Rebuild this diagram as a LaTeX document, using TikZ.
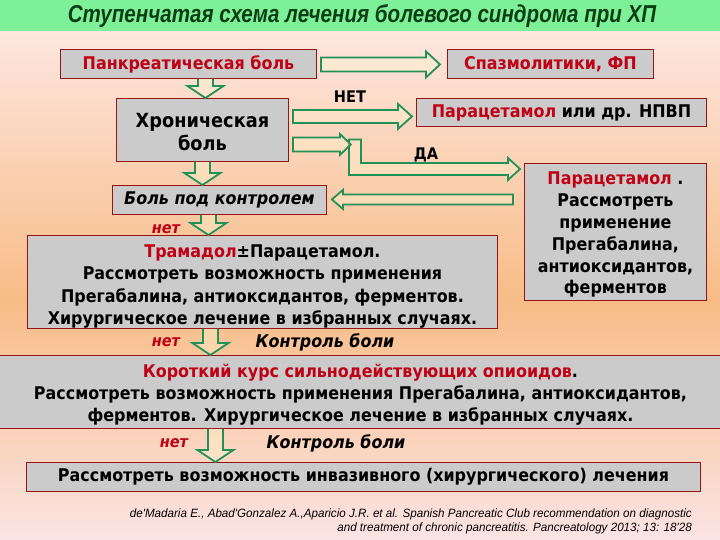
\documentclass[tikz,border=0pt]{standalone}
\usepackage{fontspec}
\setmainfont{DejaVu Sans}
\newfontfamily\boxfont[FakeStretch=0.91]{DejaVu Sans}
\newfontfamily\titlefont[FakeStretch=0.84]{Liberation Sans}
\newfontfamily\citefont[FakeStretch=0.97]{Liberation Sans}
\usetikzlibrary{calc}
\definecolor{bandgreen}{RGB}{126,240,152}
\definecolor{titlegreen}{RGB}{10,62,20}
\definecolor{bgpink}{RGB}{253,230,224}
\definecolor{bgorange}{RGB}{248,188,134}
\definecolor{bgpinkb}{RGB}{251,228,228}
\definecolor{boxgray}{RGB}{203,203,203}
\definecolor{boxred}{RGB}{150,20,20}
\definecolor{txtred}{RGB}{192,0,20}
\definecolor{arrgreen}{RGB}{34,145,88}
\definecolor{arrfill}{RGB}{255,244,205}
\newcommand\redt[1]{\textcolor{txtred}{#1}}
\newcommand\lowerby[1]{\rule{0pt}{#1}}
% right-pointing block arrow: tail, tip, shaft half, head half, head length
\newcommand\rblock[5]{\draw[blockarrow] let \p1=#1, \p2=#2 in (\x1,\y1+#3) -- (\x2-#5,\y1+#3) -- (\x2-#5,\y1+#4) -- (\x2,\y1) -- (\x2-#5,\y1-#4) -- (\x2-#5,\y1-#3) -- (\x1,\y1-#3) -- cycle;}
\newcommand\lblock[5]{\draw[blockarrow] let \p1=#1, \p2=#2 in (\x1,\y1+#3) -- (\x2+#5,\y1+#3) -- (\x2+#5,\y1+#4) -- (\x2,\y1) -- (\x2+#5,\y1-#4) -- (\x2+#5,\y1-#3) -- (\x1,\y1-#3) -- cycle;}
\newcommand\dblock[2]{\draw[blockarrow] let \p1=#1, \p2=#2 in (\x1-7.5pt,\y1) -- (\x1-7.5pt,\y2+12pt) -- (\x1-18pt,\y2+12pt) -- (\x1,\y2) -- (\x1+18pt,\y2+12pt) -- (\x1+7.5pt,\y2+12pt) -- (\x1+7.5pt,\y1);}
\tikzset{
  blockarrow/.style={draw=arrgreen, line width=1.8pt, fill=arrfill, fill opacity=0.4, line join=miter},
  box/.style={draw=boxred, line width=0.9pt, fill=boxgray, inner sep=0pt, anchor=north west, align=center, font=\boxfont\bfseries\fontsize{17.5}{21.8}\selectfont},
  lbl/.style={font=\boxfont\bfseries\fontsize{16}{18}\selectfont, inner sep=0pt},
  netlbl/.style={font=\boxfont\bfseries\itshape\fontsize{16}{18}\selectfont, text=txtred, inner sep=0pt},
  ctl/.style={font=\boxfont\bfseries\itshape\fontsize{17.5}{18}\selectfont, inner sep=0pt}
}
\begin{document}
\begin{tikzpicture}[x=1pt,y=-1pt]
\useasboundingbox (0,0) rectangle (720,540);
% background
\shade[top color=bgpink, bottom color=bgorange] (0,30) rectangle (720,301);
\shade[top color=bgorange, bottom color=bgpinkb] (0,300) rectangle (720,540);
\fill[bandgreen] (0,0) rectangle (720,31);
\node[font=\titlefont\bfseries\itshape\fontsize{24.5}{28}\selectfont, text=titlegreen, inner sep=0pt] (title) at (362,16) {Ступенчатая схема лечения болевого синдрома при ХП};
% boxes
\node[box, minimum width=256pt, minimum height=29pt] (pank) at (60,49) {\redt{Панкреатическая боль}};
\node[box, minimum width=206pt, minimum height=29pt] (spaz) at (447,49) {\redt{Спазмолитики, ФП}};
\node[box, minimum width=172pt, minimum height=63pt, font=\boxfont\bfseries\fontsize{19.5}{23.5}\selectfont] (chron) at (116,98) {\lowerby{18pt}Хроническая\\боль};
\node[box, minimum width=290pt, minimum height=28pt] (para) at (416,98) {\redt{Парацетамол} или др. НПВП};
\node[box, minimum width=182pt, minimum height=137pt] (right) at (524,163) {\lowerby{18.5pt}\redt{Парацетамол} .\\Рассмотреть\\применение\\Прегабалина,\\антиоксидантов,\\ферментов};
\node[box, minimum width=214pt, minimum height=29pt, font=\boxfont\bfseries\itshape\fontsize{17.5}{20}\selectfont] (control) at (112,185) {Боль под контролем};
\node[box, minimum width=470pt, minimum height=93pt, font=\boxfont\bfseries\fontsize{17.5}{22.3}\selectfont] (big) at (27,235) {\lowerby{22pt}\redt{Трамадол}±Парацетамол.\\Рассмотреть возможность применения\\Прегабалина, антиоксидантов, ферментов.\\Хирургическое лечение в избранных случаях.};
\node[box, minimum width=724pt, minimum height=73pt, font=\boxfont\bfseries\fontsize{17.5}{22}\selectfont] (wide) at (-2,355) {\lowerby{19.5pt}\redt{Короткий курс сильнодействующих опиоидов}.\\Рассмотреть возможность применения Прегабалина, антиоксидантов,\\ферментов. Хирургическое лечение в избранных случаях.};
\node[box, minimum width=674pt, minimum height=29pt] (last) at (26,462) {Рассмотреть возможность инвазивного (хирургического) лечения};
% labels
\node[lbl] (net1) at (350,97) {НЕТ};
\node[lbl] (da) at (426,155) {ДА};
\node[netlbl] (net2) at (166,229) {нет};
\node[netlbl] (net3) at (166,342) {нет};
\node[ctl] (ctl1) at (325,342) {Контроль боли};
\node[netlbl] (net4) at (174,443) {нет};
\node[ctl] (ctl2) at (336,443) {Контроль боли};
\node[anchor=north east, align=right, font=\citefont\itshape\fontsize{12}{14}\selectfont, inner sep=0pt] (cite) at (692,509) {de'Madaria E., Abad'Gonzalez A.,Aparicio J.R. et al. Spanish Pancreatic Club recommendation on diagnostic\\and treatment of chronic pancreatitis. Pancreatology 2013; 13: 18'28};
% connectors
\coordinate (elbow) at ($(chron.east)+(66,9.5)$);
\rblock{($(pank.east)+(4,0.5)$)}{($(spaz.west)+(-7,0)$)}{7pt}{13pt}{14pt}
\rblock{($(chron.east)+(4,-13.5)$)}{($(para.west)+(-4,4)$)}{6.5pt}{12.5pt}{14pt}
\draw[blockarrow] let \p1=(elbow), \p2=($(right.north west)+(-4,6)$) in (\x1-6pt,\y1) -- (\x1+6pt,\y1) -- (\x1+6pt,\y2+6pt) -- (\x2-12pt,\y2+6pt) -- (\x2-12pt,\y2+11pt) -- (\x2,\y2) -- (\x2-12pt,\y2-11pt) -- (\x2-12pt,\y2-6pt) -- (\x1-6pt,\y2-6pt) -- cycle;
\rblock{($(chron.east)+(4,14.5)$)}{($(elbow)+(-4,5)$)}{7pt}{10.5pt}{11pt}
\lblock{($(right.west)+(-11,-32.5)$)}{($(control.east)+(5,0)$)}{5pt}{9.5pt}{11pt}
\dblock{($(pank.south)+(17,0)$)}{(chron.north)}
\dblock{(chron.south)}{(control.north)}
\dblock{($(control.south)+(-11,0)$)}{(big.north)}
\dblock{($(big.south)+(-52,0)$)}{(wide.north)}
\dblock{($(wide.south)+(-145,0)$)}{(last.north)}
\end{tikzpicture}
\end{document}
